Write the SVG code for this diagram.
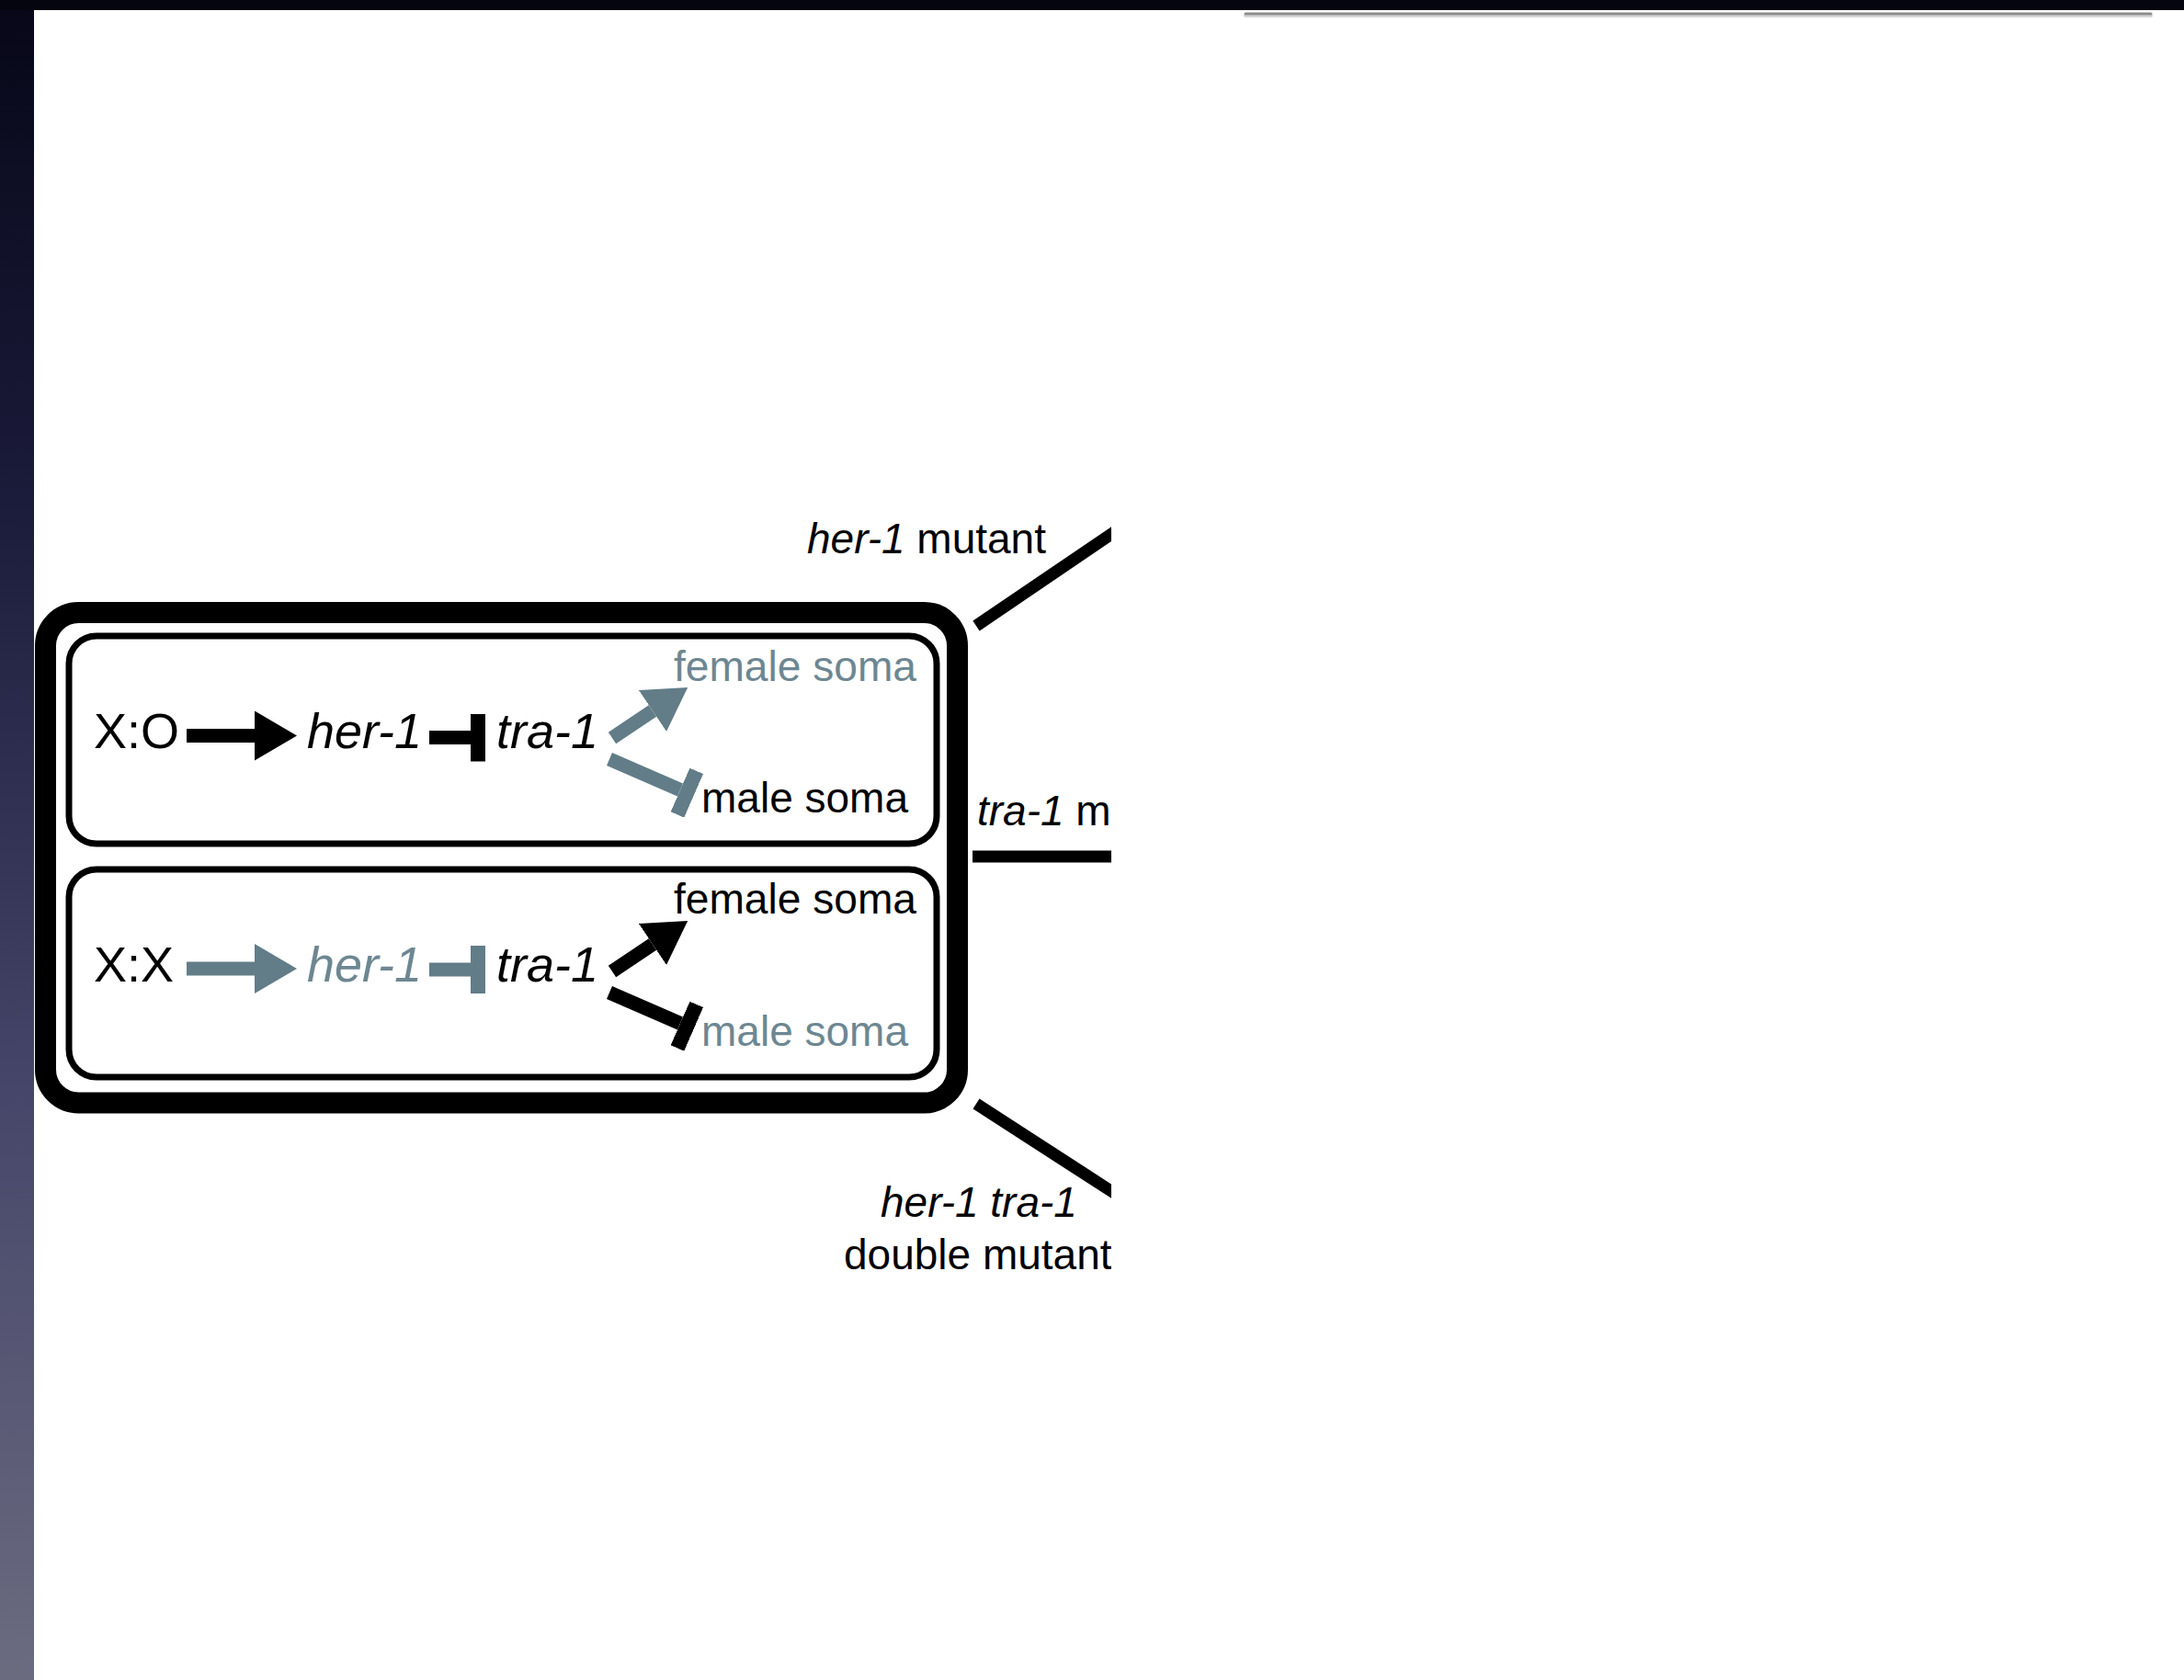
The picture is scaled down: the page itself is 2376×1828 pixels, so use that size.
<svg xmlns="http://www.w3.org/2000/svg" width="2376" height="1828" viewBox="0 0 2376 1828">
<defs>
  <linearGradient id="band" x1="0" y1="0" x2="0" y2="1">
    <stop offset="0" stop-color="#070718"/>
    <stop offset="0.3" stop-color="#1b1b3b"/>
    <stop offset="0.65" stop-color="#46466a"/>
    <stop offset="1" stop-color="#6b6b80"/>
  </linearGradient>
  <clipPath id="clipR"><rect x="0" y="0" width="1209" height="1828"/></clipPath>
  <marker id="headK" markerUnits="userSpaceOnUse" markerWidth="46" markerHeight="54" refX="0" refY="27" orient="auto" viewBox="0 0 46 54"><path d="M0,0 L46,27 L0,54 Z" fill="#000"/></marker>
  <marker id="headG" markerUnits="userSpaceOnUse" markerWidth="46" markerHeight="54" refX="0" refY="27" orient="auto" viewBox="0 0 46 54"><path d="M0,0 L46,27 L0,54 Z" fill="#627d88"/></marker>
  <marker id="barK" markerUnits="userSpaceOnUse" markerWidth="16" markerHeight="52" refX="0" refY="26" orient="auto" viewBox="0 0 16 52"><rect x="0" y="0" width="16" height="52" fill="#000"/></marker>
  <marker id="barG" markerUnits="userSpaceOnUse" markerWidth="16" markerHeight="52" refX="0" refY="26" orient="auto" viewBox="0 0 16 52"><rect x="0" y="0" width="16" height="52" fill="#627d88"/></marker>
</defs>
<style>
  .t{font-family:"Liberation Sans",Arial,Helvetica,sans-serif}
  .big{font-size:54px}
  .sm{font-size:46px}
  .i{font-style:italic}
  .k{fill:#000}
  .g{fill:#6d8792}
  .lk{stroke:#000;stroke-width:15;fill:none}
  .lg{stroke:#627d88;stroke-width:15;fill:none}
  .ak{marker-end:url(#headK)}
  .ag{marker-end:url(#headG)}
  .bk{marker-end:url(#barK)}
  .bg{marker-end:url(#barG)}
  .panel{fill:none;stroke:#000;stroke-width:7}
  .mut{stroke:#000;stroke-width:13;fill:none}
</style>

<rect x="0" y="0" width="2376" height="1828" fill="#fff"/>
<rect x="0" y="0" width="37" height="1828" fill="url(#band)"/>
<rect x="0" y="0" width="2376" height="11" fill="#05050f"/>
<line x1="1355" y1="17" x2="2340" y2="17" stroke="#d6d6d6" stroke-width="4" stroke-linecap="round"/>
<line x1="1355" y1="15" x2="2340" y2="15" stroke="#8e8e8e" stroke-width="3" stroke-linecap="round"/>

<g id="outer-box">
  <rect x="49.5" y="666.5" width="992" height="533.5" rx="36" ry="36" fill="none" stroke="#000" stroke-width="23"/>
</g>

<g id="panel-XO">
  <rect class="panel" x="75" y="692" width="944" height="226" rx="30" ry="30"/>
  <g id="xo"><text class="t big k" x="102" y="814">X:O</text></g>
  <g id="xo-her1"><text class="t big k i" x="334" y="814">her-1</text></g>
  <g id="xo-tra1"><text class="t big k i" x="540" y="814">tra-1</text></g>
  <g id="xo-female"><text class="t sm g" x="733" y="741" textLength="264" lengthAdjust="spacingAndGlyphs">female soma</text></g>
  <g id="xo-male"><text class="t sm k" x="763" y="884" textLength="225" lengthAdjust="spacingAndGlyphs">male soma</text></g>
</g>

<g id="panel-XX">
  <rect class="panel" x="75" y="946" width="944" height="226" rx="30" ry="30"/>
  <g id="xx"><text class="t big k" x="102" y="1068">X:X</text></g>
  <g id="xx-her1"><text class="t big g i" x="334" y="1068">her-1</text></g>
  <g id="xx-tra1"><text class="t big k i" x="540" y="1068">tra-1</text></g>
  <g id="xx-female"><text class="t sm k" x="733" y="994" textLength="264" lengthAdjust="spacingAndGlyphs">female soma</text></g>
  <g id="xx-male"><text class="t sm g" x="763" y="1138" textLength="225" lengthAdjust="spacingAndGlyphs">male soma</text></g>
</g>

<g id="labels" clip-path="url(#clipR)">
  <g id="lbl-her1"><text class="t sm k" x="878" y="602"><tspan class="i">her-1</tspan> mutant</text></g>
  <g id="lbl-tra1"><text class="t sm k" x="1063" y="898"><tspan class="i">tra-1</tspan> mu</text></g>
  <g id="lbl-double">
    <text class="t sm k i" x="958" y="1324">her-1 tra-1</text>
    <text class="t sm k" x="918" y="1381">double mutant</text>
  </g>
</g>

<g id="connectors">
  <line class="lk ak" x1="203" y1="800.5" x2="277" y2="800.5"/>
  <line class="lk bk" x1="467" y1="802.5" x2="512" y2="802.5"/>
  <line class="lg ag" x1="666" y1="803" x2="710" y2="773.5"/>
  <line class="lg bg" x1="663" y1="826" x2="740" y2="859.5"/>

  <line class="lg ag" x1="203" y1="1054" x2="277" y2="1054"/>
  <line class="lg bg" x1="467" y1="1055" x2="512" y2="1055"/>
  <line class="lk ak" x1="666" y1="1057" x2="710" y2="1027.5"/>
  <line class="lk bk" x1="663" y1="1080" x2="740" y2="1113.5"/>

  <g clip-path="url(#clipR)">
    <line class="mut" x1="1062" y1="681" x2="1215" y2="577"/>
    <line class="mut" x1="1058" y1="932" x2="1215" y2="932"/>
    <line class="mut" x1="1062" y1="1201" x2="1215" y2="1300"/>
  </g>
</g>
</svg>
